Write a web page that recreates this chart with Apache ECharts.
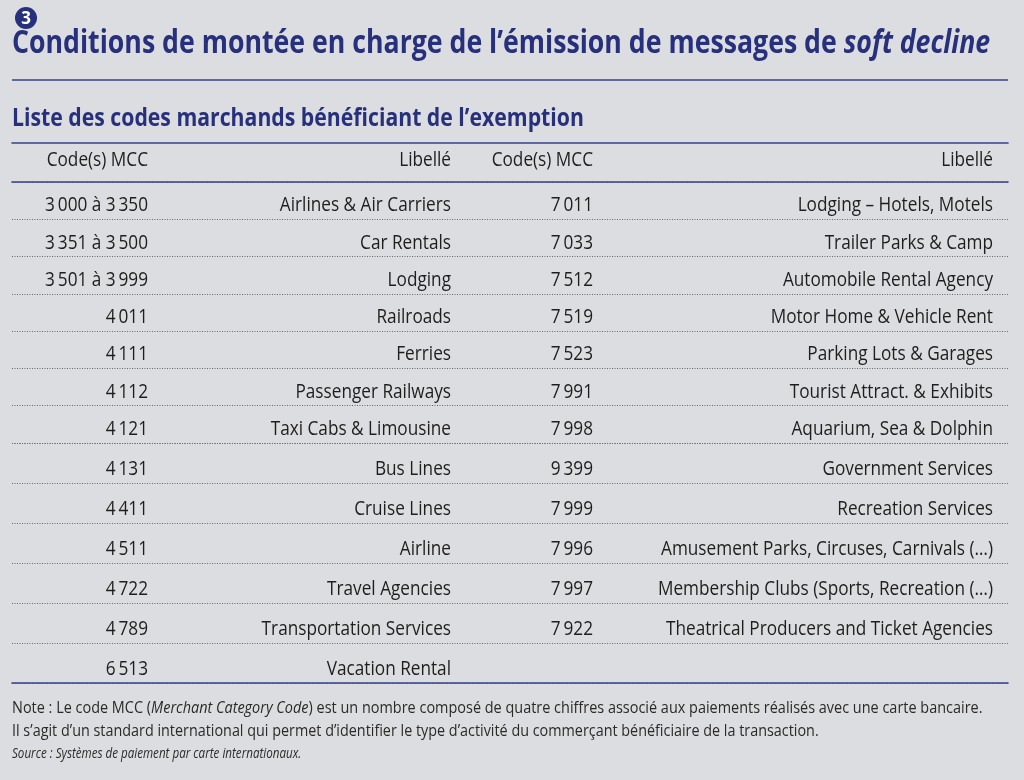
<!DOCTYPE html>
<html><head><meta charset="utf-8">
<script src="https://cdn.jsdelivr.net/npm/echarts@6/dist/echarts.min.js"></script>
<style>html,body{margin:0;padding:0;background:#dcdde0;}#c{width:1024px;height:780px;}</style>
</head><body><div id="c"></div>
<script>
// ---------- data ----------
const badgeText = '3';
const titleText = 'Conditions de montée en charge de l’émission de messages de ';
const titleItalic = 'soft decline';
const subtitleText = 'Liste des codes marchands bénéficiant de l’exemption';
const headerLabels = ['Code(s) MCC', 'Libellé', 'Code(s) MCC', 'Libellé'];
const leftCodes = ['3\u2009000 à 3\u2009350', '3\u2009351 à 3\u2009500', '3\u2009501 à 3\u2009999', '4\u2009011', '4\u2009111', '4\u2009112', '4\u2009121', '4\u2009131', '4\u2009411', '4\u2009511', '4\u2009722', '4\u2009789', '6\u2009513'];
const leftLabels = ['Airlines & Air Carriers', 'Car Rentals', 'Lodging', 'Railroads', 'Ferries', 'Passenger Railways', 'Taxi Cabs & Limousine', 'Bus Lines', 'Cruise Lines', 'Airline', 'Travel Agencies', 'Transportation Services', 'Vacation Rental'];
const rightCodes = ['7\u2009011', '7\u2009033', '7\u2009512', '7\u2009519', '7\u2009523', '7\u2009991', '7\u2009998', '9\u2009399', '7\u2009999', '7\u2009996', '7\u2009997', '7\u2009922'];
const rightLabels = ['Lodging – Hotels, Motels', 'Trailer Parks & Camp', 'Automobile Rental Agency', 'Motor Home & Vehicle Rent', 'Parking Lots & Garages', 'Tourist Attract. & Exhibits', 'Aquarium, Sea & Dolphin', 'Government Services', 'Recreation Services', 'Amusement Parks, Circuses, Carnivals (…)', 'Membership Clubs (Sports, Recreation (…)', 'Theatrical Producers and Ticket Agencies'];
const notePrefix = 'Note : Le code MCC (';
const noteItalic = 'Merchant Category Code';
const noteSuffix = ') est un nombre composé de quatre chiffres associé aux paiements réalisés avec une carte bancaire.';
const noteLine2 = 'Il s’agit d’un standard international qui permet d’identifier le type d’activité du commerçant bénéficiaire de la transaction.';
const sourceText = 'Source : Systèmes de paiement par carte internationaux.';

// ---------- layout / style ----------
const NAVY = '#27307c';
const RULE = '#36418f';
const INK = '#1e1e1e';
const FONT = '"Open Sans", "Noto Sans", sans-serif';
const BODY_SIZE = 20, BODY_SX = 0.86;
const X_MIN = 12, X_MAX = 1008;               // table spans these page units
const COL_ANCHOR = { codeL: 148, labelL: 451, codeR: 593, labelR: 993 }; // right edges of columns
const SPLIT_ROW = 7;                          // body drawn in two bands (rows 0-6, 7-12)

const chart = echarts.init(document.getElementById('c'), null, { renderer: 'canvas' });

function rowCells(r) {
  const cells = [];
  if (leftCodes[r] !== undefined) cells.push({ col: 'codeL', text: leftCodes[r] });
  if (leftLabels[r] !== undefined) cells.push({ col: 'labelL', text: leftLabels[r] });
  if (rightCodes[r] !== undefined) cells.push({ col: 'codeR', text: rightCodes[r] });
  if (rightLabels[r] !== undefined) cells.push({ col: 'labelR', text: rightLabels[r] });
  return cells;
}

function textSeries(cells, gridIdx, dy) {
  return {
    type: 'custom', coordinateSystem: 'cartesian2d',
    xAxisIndex: gridIdx === 0 ? 0 : (gridIdx === 1 ? 2 : 3), yAxisIndex: gridIdx,
    silent: true, clip: false, animation: false,
    data: cells.map(c => [COL_ANCHOR[c.col], c.row]),
    renderItem: function (params, api) {
      const c = cells[params.dataIndex];
      const p = api.coord([api.value(0), api.value(1)]);
      return {
        type: 'text', x: p[0], y: p[1] + dy, scaleX: BODY_SX,
        style: { text: c.text, align: 'right', verticalAlign: 'middle',
                 fontFamily: FONT, fontSize: BODY_SIZE, fill: INK }
      };
    }
  };
}

const headerCells = headerLabels.map((t, i) => ({ col: ['codeL', 'labelL', 'codeR', 'labelR'][i], text: t, row: 0 }));
const nRows = Math.max(leftCodes.length, rightCodes.length);
const bandA = [], bandB = [];
for (let r = 0; r < nRows; r++) {
  rowCells(r).forEach(c => {
    if (r < SPLIT_ROW) bandA.push(Object.assign(c, { row: r }));
    else bandB.push(Object.assign(c, { row: r - SPLIT_ROW }));
  });
}
const catsA = [], catsB = [];
for (let r = 0; r < nRows; r++) (r < SPLIT_ROW ? catsA : catsB).push(String(r));

const dotted = { show: true, lineStyle: { color: '#666666', width: 1, type: [1, 1.5] } };
function xAxis(grid, pos, showLine) {
  return {
    type: 'value', gridIndex: grid, position: pos, min: X_MIN, max: X_MAX, show: showLine,
    axisLine: { show: showLine, onZero: false, lineStyle: { color: RULE, width: 1.6 } },
    axisTick: { show: false }, axisLabel: { show: false }, splitLine: { show: false }, z: 5
  };
}
function yAxis(grid, cats, split) {
  return {
    type: 'category', gridIndex: grid, data: cats, inverse: true, boundaryGap: true,
    axisLine: { show: false }, axisTick: { show: false }, axisLabel: { show: false },
    splitLine: split ? dotted : { show: false }
  };
}

const option = {
  backgroundColor: '#dcdde0',
  animation: false,
  grid: [
    { left: X_MIN, right: 1024 - X_MAX, top: 143, height: 39 },
    { left: X_MIN, right: 1024 - X_MAX, top: 182, height: 261 },
    { left: X_MIN, right: 1024 - X_MAX, top: 443, height: 240 }
  ],
  xAxis: [xAxis(0, 'top', true), xAxis(0, 'bottom', true), xAxis(1, 'bottom', false), xAxis(2, 'bottom', true)],
  yAxis: [yAxis(0, ['h'], false), yAxis(1, catsA, true), yAxis(2, catsB, true)],
  series: [
    textSeries(headerCells, 0, -2),
    textSeries(bandA, 1, 5),
    textSeries(bandB, 2, 6.5)
  ],
  graphic: [
    { type: 'circle', shape: { cx: 26, cy: 18, r: 11 }, style: { fill: NAVY } },
    { type: 'text', x: 26, y: 19, style: { text: badgeText, align: 'center', verticalAlign: 'middle',
      fontFamily: FONT, fontWeight: 'bold', fontSize: 17, fill: '#ffffff' } },
    { type: 'text', x: 12, y: 44, scaleX: 0.834, style: {
      text: '{n|' + titleText + '}{i|' + titleItalic + '}', verticalAlign: 'middle',
      rich: {
        n: { fontFamily: FONT, fontWeight: 'bold', fontSize: 32, fill: NAVY },
        i: { fontFamily: FONT, fontWeight: 'bold', fontStyle: 'italic', fontSize: 32, fill: NAVY }
      } } },
    { type: 'line', shape: { x1: 12, y1: 80, x2: 1008, y2: 80 }, style: { stroke: RULE, lineWidth: 1.6 } },
    { type: 'text', x: 12, y: 119, scaleX: 0.849, style: { text: subtitleText, verticalAlign: 'middle',
      fontFamily: FONT, fontWeight: 'bold', fontSize: 25, fill: NAVY } },
    { type: 'text', x: 12, y: 708, scaleX: 0.85, style: {
      text: '{n|' + notePrefix + '}{i|' + noteItalic + '}{n|' + noteSuffix + '}', verticalAlign: 'middle',
      rich: {
        n: { fontFamily: FONT, fontSize: 17, fill: '#2a2a2a' },
        i: { fontFamily: FONT, fontStyle: 'italic', fontSize: 17, fill: '#2a2a2a' }
      } } },
    { type: 'text', x: 12, y: 731, scaleX: 0.845, style: { text: noteLine2, verticalAlign: 'middle',
      fontFamily: FONT, fontSize: 17, fill: '#2a2a2a' } },
    { type: 'text', x: 12, y: 754, scaleX: 0.83, style: { text: sourceText, verticalAlign: 'middle',
      fontFamily: FONT, fontStyle: 'italic', fontSize: 14, fill: '#2a2a2a' } }
  ]
};
chart.setOption(option);
</script>
</body></html>
